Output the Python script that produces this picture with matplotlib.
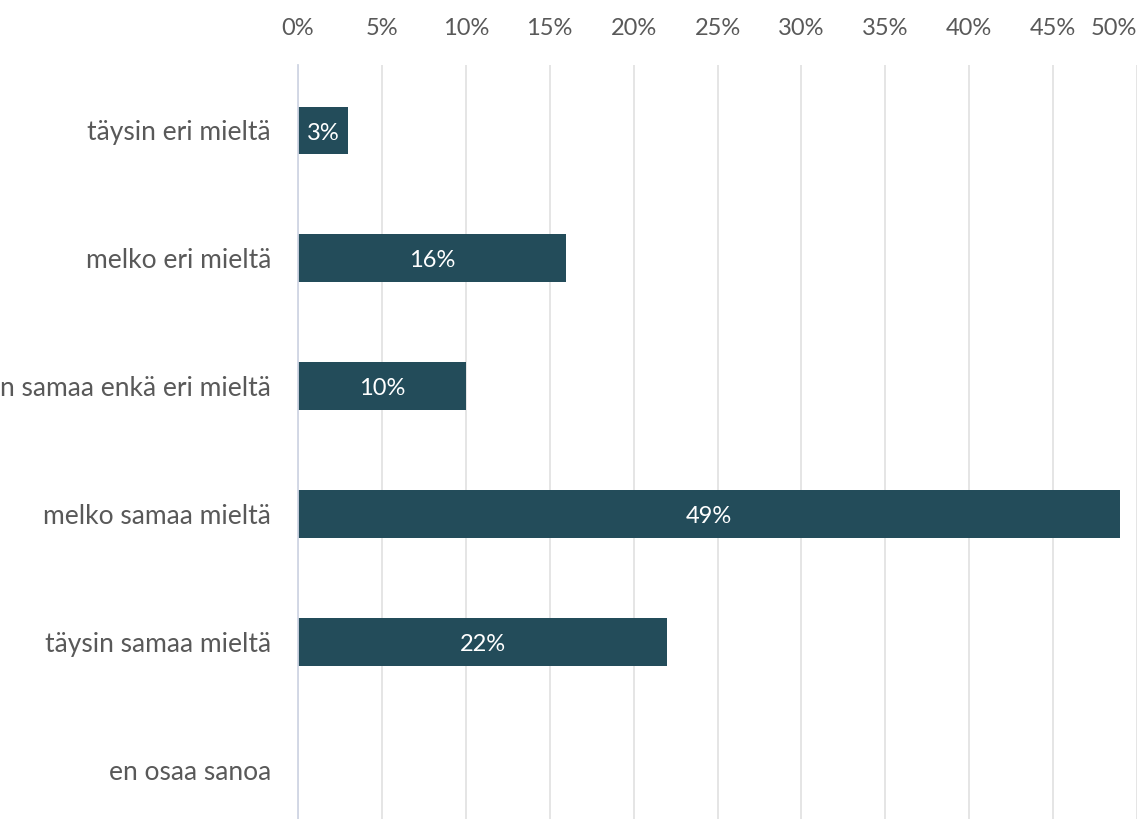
import matplotlib
matplotlib.use("Agg")
from matplotlib import pyplot as plt

vastaukset = ["täysin eri mieltä", "melko eri mieltä", "en samaa enkä eri mieltä",
              "melko samaa mieltä", "täysin samaa mieltä", "en osaa sanoa"]
osuudet = [3, 16, 10, 49, 22, 0]
asteikko = [0, 5, 10, 15, 20, 25, 30, 35, 40, 45, 50]

plt.rcParams['font.family'] = ['Lato', 'DejaVu Sans']

fig = plt.figure(figsize=(11.39, 8.19), dpi=100)
ax = fig.add_axes([298 / 1139, 0, (1137 - 298) / 1139, 1 - 65 / 819])

paikat = list(range(len(vastaukset)))
palkit = ax.barh(paikat, osuudet, height=0.375, color="#234c5a")

for palkki, arvo in zip(palkit, osuudet):
    if arvo > 0:
        ax.text(arvo / 2, palkki.get_y() + palkki.get_height() / 2 + 0.02, f"{arvo}%",
                ha="center", va="center", color="white", fontsize=17)

ax.set_xlim(0, 50)
ax.set_ylim(5.383, -0.512)
ax.set_yticks(paikat)
ax.set_yticklabels(vastaukset, fontsize=19, color="#595959")
ax.set_xticks(asteikko)
ax.set_xticklabels([f"{a}%" for a in asteikko], fontsize=17, color="#595959")
ax.xaxis.tick_top()
ax.tick_params(axis="x", length=0, pad=19)
ax.tick_params(axis="y", length=0, pad=19.5)
# viimeinen prosenttiluku mahtuu kuvaan vain oikealle tasattuna
ax.xaxis.get_major_ticks()[-1].label2.set_horizontalalignment("right")

ax.grid(axis="x", color="#e3e3e3", linewidth=1.3)
ax.set_axisbelow(True)
for nimi in ["top", "right", "bottom"]:
    ax.spines[nimi].set_visible(False)
ax.spines["left"].set_color("#d0d6e4")
ax.spines["left"].set_linewidth(1.3)

fig.savefig("out.png", dpi=100)
